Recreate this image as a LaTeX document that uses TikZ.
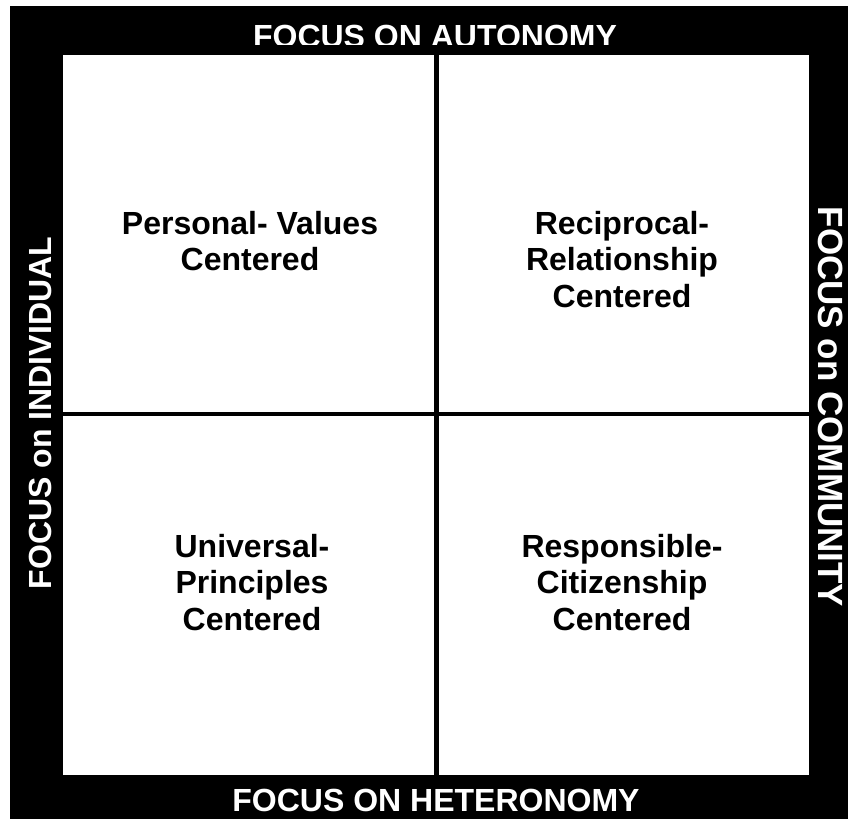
\documentclass[tikz,border=0pt]{standalone}
\usepackage{fontspec}
\setmainfont{Liberation Sans}
\begin{document}
\begin{tikzpicture}[x=1pt,y=1pt,
  lbl/.style={font=\fontsize{32}{36.5}\selectfont\bfseries, inner sep=0pt, align=center},
  frametext/.style={font=\fontsize{32}{36.5}\selectfont\bfseries, inner sep=0pt, text=white},
  divider/.style={line width=4.5pt, black}]
\useasboundingbox (0,0) rectangle (848,-819);
\fill[white] (0,0) rectangle (848,-819);
\fill[black] (10,-6) rectangle (848,-819);
\fill[white] (63,-55) rectangle (809,-775);
% dividers
\coordinate (vt) at (436.5,-55);
\coordinate (vb) at (436.5,-775);
\coordinate (hl) at (63,-414);
\coordinate (hr) at (809,-414);
\draw[divider] (vt) -- (vb);
\draw[divider] (hl) -- (hr);
% frame labels
\begin{scope}
\clip (10,-6) rectangle (848,-44);
\node[frametext, anchor=north] (top) at (435,-25) {FOCUS ON AUTONOMY};
\end{scope}
\node[frametext, anchor=north] (bottom) at (436,-789) {FOCUS ON HETERONOMY};
\node[frametext, rotate=90] (left) at (40,-413) {FOCUS on INDIVIDUAL};
\node[frametext, rotate=-90, font=\fontsize{35}{40}\selectfont\bfseries] (right) at (831,-407) {FOCUS on COMMUNITY};
% quadrant labels
\node[lbl, anchor=north] (q1) at (250,-211) {Personal- Values\\Centered};
\node[lbl, anchor=north] (q2) at (622,-211) {Reciprocal-\\Relationship\\Centered};
\node[lbl, anchor=north] (q3) at (252,-534) {Universal-\\Principles\\Centered};
\node[lbl, anchor=north] (q4) at (622,-534) {Responsible-\\Citizenship\\Centered};
\end{tikzpicture}
\end{document}
